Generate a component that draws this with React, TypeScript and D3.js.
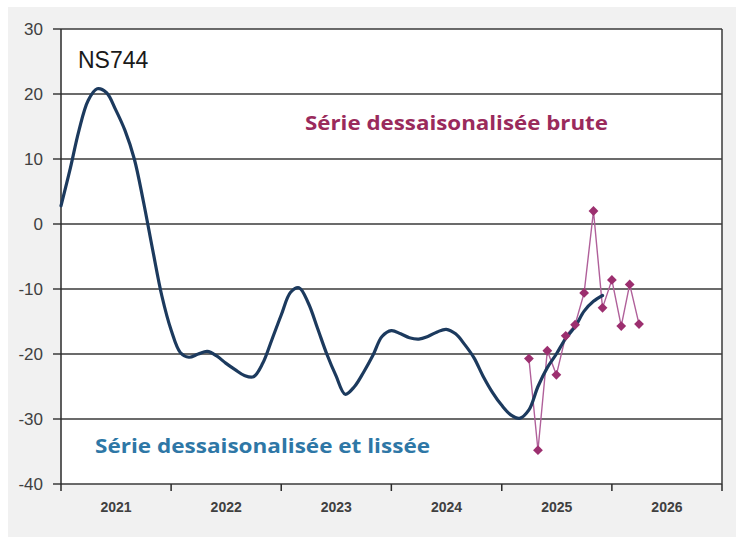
import React from "react";
import * as d3 from "d3";

// Smoothed series: monthly values from Jan 2021 to Dec 2025
const smoothStart = "2021-01-01";
const smoothValues = [
  2.8, 8.6, 14.3, 19.0, 20.8, 20.2, 17.6, 14.4, 10.0, 3.5, -4.0, -11.0,
  -16.3, -19.8, -20.5, -20.0, -19.6, -20.3, -21.4, -22.4, -23.3, -23.5, -21.4, -17.8,
  -14.0, -10.5, -9.8, -12.2, -16.0, -20.0, -23.3, -26.2, -25.0, -22.8, -20.2, -17.3,
  -16.4, -16.9, -17.5, -17.7, -17.3, -16.6, -16.2, -16.9, -18.6, -20.6, -23.5, -25.9,
  -27.9, -29.4, -29.9, -28.6, -25.0, -22.1, -20.0, -17.6, -15.8, -13.4, -11.9, -11.0,
];

// Raw series: monthly values from Apr 2025 to Apr 2026
const rawStart = "2025-04-01";
const rawValues = [-20.7, -34.8, -19.5, -23.2, -17.2, -15.5, -10.6, 2.0, -12.9, -8.6, -15.7, -9.3, -15.4];

const yTicks = [30, 20, 10, 0, -10, -20, -30, -40];
const yearLabels = ["2021", "2022", "2023", "2024", "2025", "2026"];
const seriesTitle = "NS744";
const rawLabel = "Série dessaisonalisée brute";
const smoothLabel = "Série dessaisonalisée et lissée";

const W = 738;
const H = 539;
const plot = { left: 61, right: 722, top: 29, bottom: 484 };

export default function App() {
  const parse = d3.timeParse("%Y-%m-%d");
  const s0 = parse(smoothStart)!;
  const r0 = parse(rawStart)!;
  const smooth = smoothValues.map((v, i) => ({ d: d3.timeMonth.offset(s0, i), v }));
  const raw = rawValues.map((v, i) => ({ d: d3.timeMonth.offset(r0, i), v }));

  const x = d3
    .scaleTime()
    .domain([new Date(2021, 0, 1), new Date(2027, 0, 1)])
    .range([plot.left, plot.right]);
  const y = d3.scaleLinear().domain([-40, 30]).range([plot.bottom, plot.top]);

  const smoothLine = d3
    .line<{ d: Date; v: number }>()
    .x((p) => x(p.d))
    .y((p) => y(p.v))
    .curve(d3.curveCatmullRom.alpha(0.5));
  const rawLine = d3
    .line<{ d: Date; v: number }>()
    .x((p) => x(p.d))
    .y((p) => y(p.v));

  const diamond = d3.symbol().type(d3.symbolSquare).size(48)()!;
  const yearTicks = d3.range(2021, 2028).map((yr) => new Date(yr, 0, 1));

  const labelColor = "#404040";
  const font = "'Liberation Sans', Arial, sans-serif";
  const annFont = "'Open Sans', 'Liberation Sans', sans-serif";

  return (
    <svg
      width={W}
      height={H}
      style={{ position: "absolute", left: 0, top: 0 }}
      fontFamily={font}
    >
      <rect x={0} y={0} width={W} height={H} fill="#ffffff" />
      <rect x={8} y={7} width={728} height={530} fill="#f1f1f1" />
      <rect
        x={plot.left}
        y={plot.top}
        width={plot.right - plot.left}
        height={plot.bottom - plot.top}
        fill="#ffffff"
      />
      {/* gridlines */}
      {yTicks.map((t) => (
        <line
          key={"g" + t}
          x1={plot.left - 8}
          x2={plot.right}
          y1={y(t)}
          y2={y(t)}
          stroke="#3a3a3a"
          strokeWidth={1.3}
        />
      ))}
      {/* y labels */}
      {yTicks.map((t) => (
        <text
          key={"yl" + t}
          x={43}
          y={y(t)}
          dy="0.35em"
          textAnchor="end"
          fontSize={17}
          fill={labelColor}
        >
          {t}
        </text>
      ))}
      {/* left axis and right border */}
      <line x1={plot.left} x2={plot.left} y1={plot.top} y2={plot.bottom} stroke="#2a2a2a" strokeWidth={1.5} />
      <line x1={plot.right} x2={plot.right} y1={plot.top} y2={plot.bottom} stroke="#3a3a3a" strokeWidth={1.5} />
      {/* x ticks */}
      {yearTicks.map((d, i) => (
        <line
          key={"xt" + i}
          x1={x(d)}
          x2={x(d)}
          y1={plot.bottom}
          y2={plot.bottom + 7}
          stroke="#2a2a2a"
          strokeWidth={1.5}
        />
      ))}
      {yearLabels.map((lab, i) => (
        <text
          key={"xl" + lab}
          x={(x(yearTicks[i]) + x(yearTicks[i + 1])) / 2}
          y={507}
          dy="0.35em"
          textAnchor="middle"
          fontSize={14}
          fontWeight="bold"
          fill={labelColor}
        >
          {lab}
        </text>
      ))}
      {/* raw series */}
      <path d={rawLine(raw)!} fill="none" stroke="#b0609a" strokeWidth={1.4} />
      {/* smoothed series */}
      <path d={smoothLine(smooth)!} fill="none" stroke="#1c3a5e" strokeWidth={3.2} strokeLinecap="round" />
      {raw.map((p, i) => (
        <path
          key={"m" + i}
          d={diamond}
          transform={`translate(${x(p.d)},${y(p.v)}) rotate(45)`}
          fill="#9c2f6f"
        />
      ))}
      {/* annotations */}
      <text x={78} y={68} fontSize={23} fill="#1a1a1a">
        {seriesTitle}
      </text>
      <text
        x={305}
        y={129.5}
        fontSize={20}
        fontWeight="bold"
        fontFamily={annFont}
        fill="#9a2a5c"
        textLength={303}
        lengthAdjust="spacingAndGlyphs"
      >
        {rawLabel}
      </text>
      <text
        x={95}
        y={453}
        fontSize={20}
        fontWeight="bold"
        fontFamily={annFont}
        fill="#2e77a6"
        textLength={335}
        lengthAdjust="spacingAndGlyphs"
      >
        {smoothLabel}
      </text>
    </svg>
  );
}
